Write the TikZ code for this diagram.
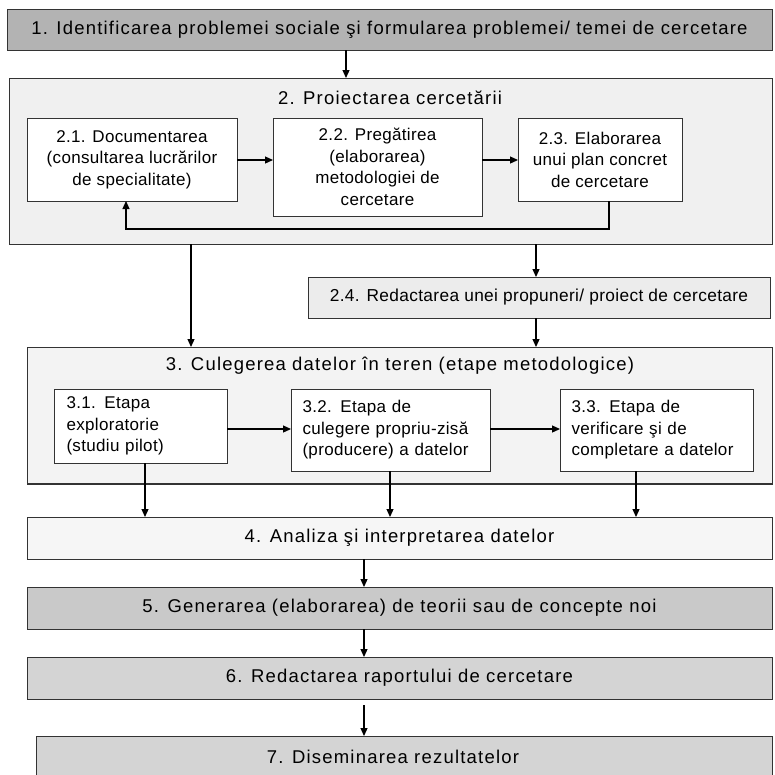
\documentclass[tikz,border=0pt]{standalone}
\usepackage{fontspec}
\setmainfont{Liberation Sans}
\newfontfamily\spacedf[LetterSpace=6.5]{Liberation Sans}
\newfontfamily\innerf[LetterSpace=2]{Liberation Sans}
\usetikzlibrary{arrows.meta}
\definecolor{gA}{HTML}{B3B3B3}
\definecolor{gB}{HTML}{F0F0F0}
\definecolor{gC}{HTML}{ECECEC}
\definecolor{gD}{HTML}{F3F3F3}
\definecolor{gE}{HTML}{F6F6F6}
\definecolor{gF}{HTML}{C9C9C9}
\definecolor{gG}{HTML}{D4D4D4}
\definecolor{edge}{HTML}{333333}
\begin{document}
\begin{tikzpicture}[x=1pt,y=-1pt,
  box/.style={draw=edge, line width=0.9pt, inner sep=0pt, outer sep=0pt},
  mainbox/.style={box, font=\spacedf\fontsize{18.5}{22}\selectfont},
  innerbox/.style={box, fill=white, font=\innerf\fontsize{17}{21.5}\selectfont},
  ttl/.style={inner sep=0pt, font=\spacedf\fontsize{18.5}{22}\selectfont},
  arr/.style={line width=1.2pt, -{Triangle[length=8pt,width=7pt]}}
]
\useasboundingbox (0,0) rectangle (775,774);
% main boxes
\node[mainbox, fill=gA, minimum width=765, minimum height=41] (b1) at (389.5,29.5)
  {1. Identificarea problemei sociale şi formularea problemei/ temei de cercetare};
\node[box, fill=gB, minimum width=763, minimum height=166] (b2) at (390.5,161) {};
\node[ttl] (t2) at (390,98) {2. Proiectarea cercetării};
\node[innerbox, minimum width=210, minimum height=83, align=center] (b21) at (132,159.5)
  {2.1. Documentarea\\(consultarea lucrărilor\\de specialitate)};
\node[innerbox, minimum width=209, minimum height=98, align=center] (b22) at (377.5,167)
  {2.2. Pregătirea\\(elaborarea)\\metodologiei de\\cercetare};
\node[innerbox, minimum width=164, minimum height=83, align=center] (b23) at (600,159.5)
  {2.3. Elaborarea\\unui plan concret\\de cercetare};
\node[box, fill=gC, minimum width=462, minimum height=41, font=\innerf\fontsize{17.3}{21}\selectfont] (b24) at (539,297.5)
  {2.4. Redactarea unei propuneri/ proiect de cercetare};
\node[box, fill=gD, minimum width=745, minimum height=137] (b3) at (399.5,415.5) {};
\draw[line width=2pt, edge] (b3.south west) -- (b3.south east);
\node[ttl] (t3) at (400,366) {3. Culegerea datelor în teren (etape metodologice)};
\node[innerbox, minimum width=173, minimum height=74, align=left, text width=148] (b31) at (140.5,426)
  {3.1. Etapa\\exploratorie\\(studiu pilot)};
\node[innerbox, minimum width=199, minimum height=82, align=left, text width=176] (b32) at (390.5,430)
  {3.2. Etapa de\\culegere propriu-zisă\\(producere) a datelor};
\node[innerbox, minimum width=193, minimum height=82, align=left, text width=170] (b33) at (656.5,430)
  {3.3. Etapa de\\verificare şi de\\completare a datelor};
\node[mainbox, fill=gE, minimum width=745, minimum height=42] (b4) at (399.5,538)
  {4. Analiza şi interpretarea datelor};
\node[mainbox, fill=gF, minimum width=745, minimum height=42] (b5) at (399.5,608)
  {5. Generarea (elaborarea) de teorii sau de concepte noi};
\node[mainbox, fill=gG, minimum width=745, minimum height=42] (b6) at (399.5,678)
  {6. Redactarea raportului de cercetare};
\node[box, fill=gG, minimum width=736, minimum height=42] (b7) at (404,757) {};
\node[ttl] (t7) at (393,757) {7. Diseminarea rezultatelor};
% coordinates for connector columns
\coordinate (c1) at (346,0);
\coordinate (c2) at (191,0);
\coordinate (c3) at (536,0);
\coordinate (fb) at (609,229);
\coordinate (fa) at (126,229);
\coordinate (r1) at (0,160);
\coordinate (r2) at (0,429);
\coordinate (d1) at (145,0);
\coordinate (d2) at (390,0);
\coordinate (d3) at (636,0);
\coordinate (d4) at (364,0);
% connectors
\draw[arr] (b1.south -| c1) -- (b2.north -| c1);
\draw[arr] (b21.east |- r1) -- (b22.west |- r1);
\draw[arr] (b22.east |- r1) -- (b23.west |- r1);
\draw[arr] (b23.south -| fb) |- (fa) -- (b21.south -| fa);
\draw[arr] (b2.south -| c2) -- (b3.north -| c2);
\draw[arr] (b2.south -| c3) -- (b24.north -| c3);
\draw[arr] (b24.south -| c3) -- (b3.north -| c3);
\draw[arr] (b31.east |- r2) -- (b32.west |- r2);
\draw[arr] (b32.east |- r2) -- (b33.west |- r2);
\draw[arr] (b31.south -| d1) -- (b4.north -| d1);
\draw[arr] (b32.south -| d2) -- (b4.north -| d2);
\draw[arr] (b33.south -| d3) -- (b4.north -| d3);
\draw[arr] (b4.south -| d4) -- (b5.north -| d4);
\draw[arr] (b5.south -| d4) -- (b6.north -| d4);
\draw[arr, shorten <=6pt] (b6.south -| d4) -- (b7.north -| d4);
\end{tikzpicture}
\end{document}
